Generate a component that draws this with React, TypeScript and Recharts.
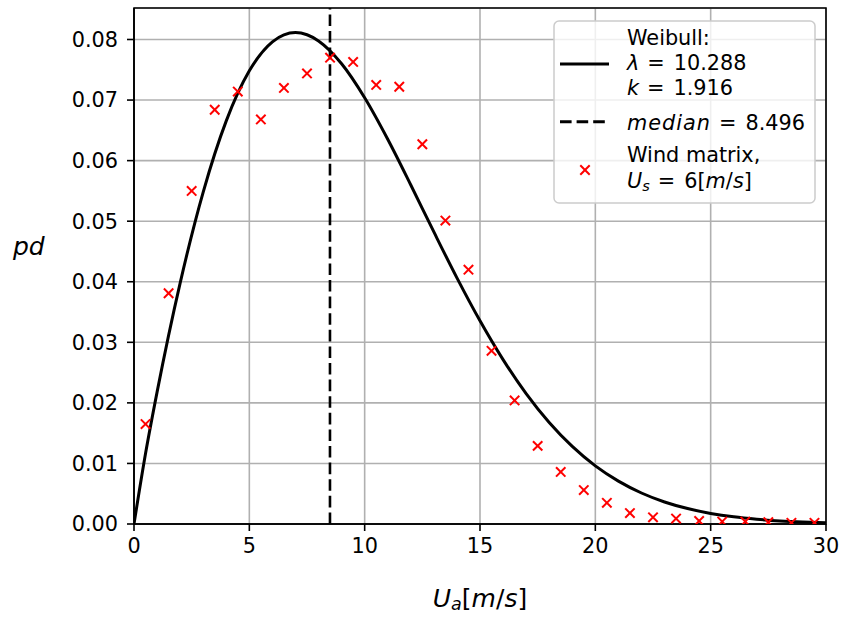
import React from 'react';
import {
  ComposedChart,
  Line,
  Scatter,
  XAxis,
  YAxis,
  CartesianGrid,
  ReferenceLine,
  ReferenceArea,
  Legend,
  Label,
} from 'recharts';

// Weibull curve (x in m/s, probability density)
const curveX = [0, 0.5, 1, 2, 3, 4, 5, 6, 6.5, 7, 7.5, 8, 9, 10, 11, 12, 13, 14, 15, 16, 17, 18, 19, 20, 21, 22, 23, 24, 25, 26, 27, 28, 29, 30];
const curveY = [
  0, 0.01163, 0.02177, 0.03978, 0.05481, 0.06656, 0.07482, 0.07962, 0.08077, 0.08114, 0.08078, 0.07976,
  0.07599, 0.07038, 0.06353, 0.05598, 0.04822, 0.04064, 0.03355, 0.02714, 0.02153, 0.01676, 0.01281,
  0.0096, 0.00708, 0.00512, 0.00364, 0.00255, 0.00175, 0.00118, 0.00079, 0.00051, 0.00033, 0.00021,
];

// Wind matrix points
const windX = [0.5, 1.5, 2.5, 3.5, 4.5, 5.5, 6.5, 7.5, 8.5, 9.5, 10.5, 11.5, 12.5, 13.5, 14.5, 15.5, 16.5, 17.5, 18.5, 19.5, 20.5, 21.5, 22.5, 23.5, 24.5, 25.5, 26.5, 27.5, 28.5, 29.5];
const windY = [
  0.0165, 0.0381, 0.055, 0.0684, 0.0714, 0.0668, 0.072, 0.0744, 0.077, 0.0763, 0.0725, 0.0722, 0.0627,
  0.0501, 0.042, 0.0286, 0.0204, 0.0129, 0.0086, 0.0056, 0.0035, 0.0018, 0.0011, 0.0009, 0.0005, 0.0004,
  0.0004, 0.0003, 0.0002, 0.0002,
];

const medianValue = 8.496;
const xTicks = [0, 5, 10, 15, 20, 25, 30];
const yTicks = [0, 0.01, 0.02, 0.03, 0.04, 0.05, 0.06, 0.07, 0.08];
const X_MAX = 30;
const Y_MAX = 0.0852;

const curveData = curveX.map((x, i) => ({ x, y: curveY[i] }));
const windData = windX.map((x, i) => ({ x, y: windY[i] }));

const FONT = '"DejaVu Sans", sans-serif';
const FS = 20.8;

const XMark = (props: any) => {
  const { cx, cy } = props;
  if (cx == null || cy == null) return null;
  const h = 4.7;
  return (
    <g stroke="#ff0000" strokeWidth={2}>
      <line x1={cx - h} y1={cy - h} x2={cx + h} y2={cy + h} />
      <line x1={cx - h} y1={cy + h} x2={cx + h} y2={cy - h} />
    </g>
  );
};

const XTitle = (props: any) => {
  const vb = props.viewBox || { x: 134, y: 524, width: 692, height: 30 };
  const cx = vb.x + vb.width / 2;
  return (
    <text x={cx} y={607} textAnchor="middle" fontFamily={FONT} fontSize={25} fill="#000">
      <tspan fontStyle="italic">U</tspan>
      <tspan fontStyle="italic" fontSize={17.5} dy={3}>a</tspan>
      <tspan dy={-3}>[</tspan>
      <tspan fontStyle="italic">m</tspan>
      <tspan>/</tspan>
      <tspan fontStyle="italic">s</tspan>
      <tspan>]</tspan>
    </text>
  );
};

const YTitle = (props: any) => {
  const vb = props.viewBox || { x: 0, y: 8, width: 134, height: 516 };
  return (
    <text x={vb.x + 13} y={255} fontFamily={FONT} fontSize={25} fontStyle="italic" fill="#000">
      pd
    </text>
  );
};

const LegendBox = () => (
  <svg width={272} height={196} style={{ display: 'block', overflow: 'visible' }}>
    <rect x={4} y={8} width={261} height={182} rx={5} ry={5} fill="#ffffff" fillOpacity={0.8} stroke="#cccccc" strokeWidth={1.5} />
    <g fontFamily={FONT} fontSize={FS} fill="#000">
      <text x={77} y={32}>Weibull:</text>
      <text x={77} y={57}>
        <tspan fontStyle="italic">λ</tspan>
        <tspan dx={8}>=</tspan>
        <tspan dx={9}>10.288</tspan>
      </text>
      <text x={77} y={82}>
        <tspan fontStyle="italic">k</tspan>
        <tspan dx={8}>=</tspan>
        <tspan dx={9}>1.916</tspan>
      </text>
      <text x={77} y={117}>
        <tspan fontStyle="italic" letterSpacing={1}>median</tspan>
        <tspan dx={8}>=</tspan>
        <tspan dx={9}>8.496</tspan>
      </text>
      <text x={77} y={149}>Wind matrix,</text>
      <text x={77} y={175}>
        <tspan fontStyle="italic">U</tspan>
        <tspan fontStyle="italic" fontSize={14.5} dy={3}>s</tspan>
        <tspan dy={-3} dx={8}>=</tspan>
        <tspan dx={9}>6[</tspan>
        <tspan fontStyle="italic">m</tspan>
        <tspan>/</tspan>
        <tspan fontStyle="italic">s</tspan>
        <tspan>]</tspan>
      </text>
    </g>
    <line x1={10} y1={51} x2={59} y2={51} stroke="#000" strokeWidth={3} />
    <line x1={10} y1={108.7} x2={59} y2={108.7} stroke="#000" strokeWidth={3} strokeDasharray="11.6 5" />
    <g stroke="#ff0000" strokeWidth={2}>
      <line x1={30.3} y1={152.3} x2={39.7} y2={161.7} />
      <line x1={30.3} y1={161.7} x2={39.7} y2={152.3} />
    </g>
  </svg>
);

export default function App() {
  return (
    <div style={{ position: 'absolute', left: 0, top: 0, width: 842, height: 618, background: '#fff' }}>
      <ComposedChart
        width={842}
        height={618}
        margin={{ top: 8, right: 16, bottom: 64, left: 0 }}
      >
        <CartesianGrid stroke="#b0b0b0" strokeWidth={1.6} />
        <XAxis
          dataKey="x"
          type="number"
          domain={[0, X_MAX]}
          ticks={xTicks}
          allowDataOverflow
          height={30}
          tickSize={7}
          tickMargin={7}
          axisLine={{ stroke: '#000', strokeWidth: 1.6 }}
          tickLine={{ stroke: '#000', strokeWidth: 1.6 }}
          tick={{ fill: '#000', fontSize: FS, fontFamily: FONT }}
        >
          <Label content={XTitle} />
        </XAxis>
        <YAxis
          dataKey="y"
          type="number"
          domain={[0, Y_MAX]}
          ticks={yTicks}
          allowDataOverflow
          width={134}
          tickSize={7}
          tickMargin={9}
          tickFormatter={(v: number) => v.toFixed(2)}
          axisLine={{ stroke: '#000', strokeWidth: 1.6 }}
          tickLine={{ stroke: '#000', strokeWidth: 1.6 }}
          tick={{ fill: '#000', fontSize: FS, fontFamily: FONT }}
        >
          <Label content={YTitle} />
        </YAxis>
        <Line
          data={curveData}
          dataKey="y"
          type="monotone"
          stroke="#000"
          strokeWidth={3}
          dot={false}
          activeDot={false}
          isAnimationActive={false}
          legendType="none"
        />
        <ReferenceLine x={medianValue} stroke="#000" strokeWidth={2.6} strokeDasharray="11.6 5" />
        <Scatter
          data={windData}
          dataKey="y"
          shape={XMark}
          isAnimationActive={false}
          legendType="none"
        />
        <ReferenceArea x1={0} x2={X_MAX} y1={0} y2={Y_MAX} fill="none" stroke="#000" strokeWidth={1.6} />
        <Legend
          content={LegendBox}
          layout="horizontal"
          align="center"
          verticalAlign="middle"
          wrapperStyle={{ position: 'absolute', left: 550, top: 13, width: 272, height: 196 }}
        />
      </ComposedChart>
    </div>
  );
}
